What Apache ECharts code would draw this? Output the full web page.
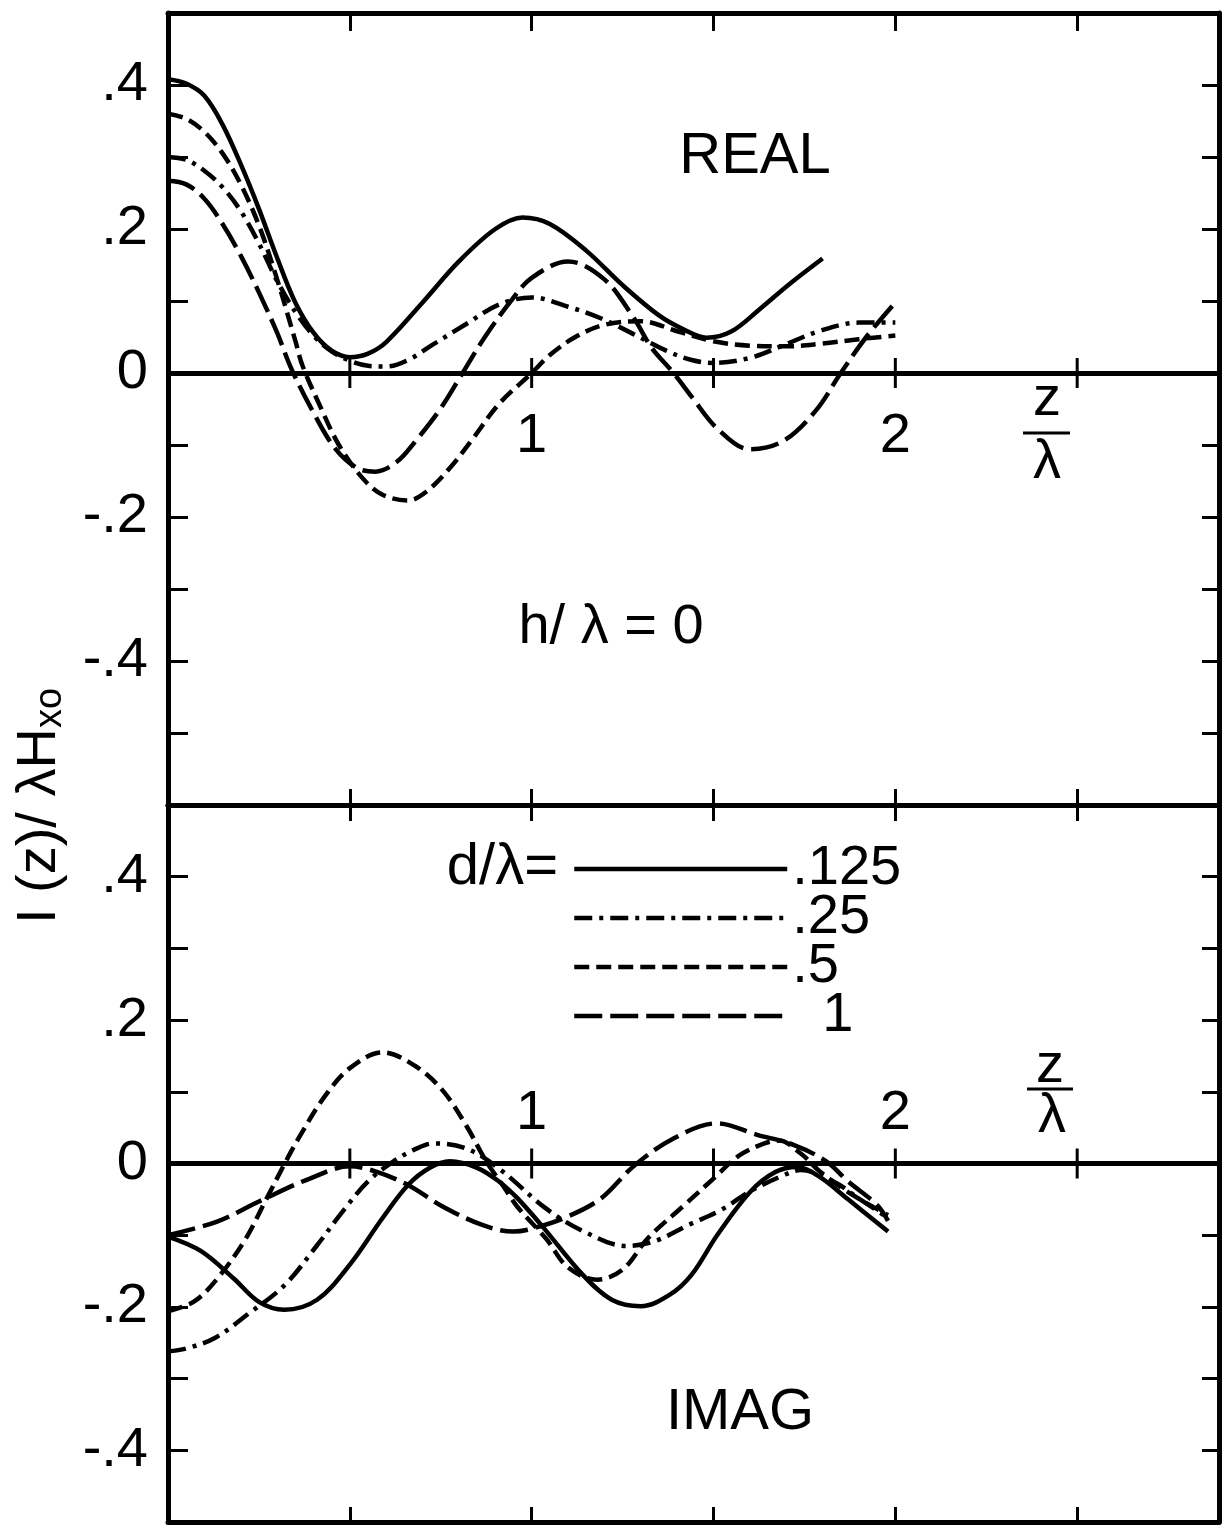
<!DOCTYPE html>
<html>
<head>
<meta charset="utf-8">
<script src="https://cdn.jsdelivr.net/npm/echarts@6/dist/echarts.min.js"></script>
<style>
html,body{margin:0;padding:0;background:#fff;}
#c{width:1222px;height:1530px;}
</style>
</head>
<body>
<div id="c"></div>
<script>
// ---------------- DATA ----------------
const seriesNames = ['.125', '.25', '.5', '1'];          // d/lambda
const yTickValues = [0.4, 0.2, 0, -0.2, -0.4];
const yTickLabels = ['.4', '.2', '0', '-.2', '-.4'];
const zeroTickValues = [0.5, 1, 1.5, 2, 2.5];
const xLabelValues = [1, 2];
const xLabelTexts = ['1', '2'];

// REAL part, h/lambda = 0
const realSolid = [[0,0.408],[0.05,0.402],[0.1,0.385],[0.15,0.345],[0.2,0.29],[0.25,0.228],[0.3,0.16],[0.35,0.098],[0.4,0.056],[0.45,0.031],[0.5,0.022],[0.55,0.027],[0.6,0.043],[0.7,0.098],[0.8,0.155],[0.9,0.2],[0.975,0.216],[1.05,0.207],[1.15,0.17],[1.25,0.122],[1.35,0.08],[1.42,0.06],[1.48,0.049],[1.55,0.058],[1.63,0.09],[1.71,0.124],[1.8,0.159]];
const realDashDot = [[0,0.3],[0.05,0.296],[0.1,0.281],[0.15,0.258],[0.2,0.225],[0.25,0.18],[0.3,0.128],[0.35,0.085],[0.4,0.052],[0.45,0.03],[0.5,0.017],[0.55,0.01],[0.6,0.009],[0.66,0.018],[0.73,0.04],[0.82,0.068],[0.91,0.095],[1.0,0.105],[1.1,0.092],[1.19,0.076],[1.28,0.054],[1.37,0.031],[1.44,0.018],[1.5,0.014],[1.6,0.021],[1.69,0.038],[1.79,0.058],[1.9,0.07],[2.0,0.07]];
const realShortDash = [[0,0.36],[0.05,0.353],[0.1,0.335],[0.15,0.305],[0.2,0.262],[0.25,0.205],[0.3,0.13],[0.35,0.045],[0.37,0.01],[0.42,-0.048],[0.47,-0.1],[0.535,-0.146],[0.59,-0.169],[0.66,-0.177],[0.71,-0.165],[0.775,-0.132],[0.84,-0.09],[0.91,-0.043],[1.0,0.0],[1.05,0.025],[1.12,0.05],[1.2,0.067],[1.3,0.072],[1.4,0.058],[1.5,0.044],[1.6,0.038],[1.7,0.037],[1.8,0.041],[1.9,0.047],[2.0,0.052]];
const realLongDash = [[0,0.267],[0.05,0.262],[0.1,0.242],[0.15,0.207],[0.2,0.163],[0.25,0.112],[0.3,0.056],[0.34,0.005],[0.4,-0.055],[0.46,-0.105],[0.52,-0.132],[0.57,-0.137],[0.63,-0.123],[0.68,-0.095],[0.75,-0.049],[0.81,0.0],[0.87,0.049],[0.94,0.098],[1.0,0.132],[1.1,0.155],[1.2,0.13],[1.28,0.077],[1.33,0.035],[1.39,0.0],[1.44,-0.033],[1.51,-0.077],[1.6,-0.106],[1.69,-0.095],[1.78,-0.053],[1.85,0.0],[1.92,0.05],[2.0,0.098]];

// IMAG part
const imagSolid = [[0,-0.102],[0.09,-0.122],[0.18,-0.16],[0.25,-0.193],[0.32,-0.204],[0.41,-0.19],[0.5,-0.141],[0.59,-0.076],[0.66,-0.03],[0.72,-0.006],[0.775,0.003],[0.85,-0.006],[0.91,-0.025],[0.96,-0.048],[1.03,-0.088],[1.14,-0.155],[1.22,-0.19],[1.3,-0.199],[1.38,-0.183],[1.44,-0.155],[1.51,-0.1],[1.6,-0.04],[1.67,-0.012],[1.73,-0.005],[1.79,-0.018],[1.87,-0.05],[1.98,-0.095]];
const imagDashDot = [[0,-0.262],[0.05,-0.258],[0.13,-0.243],[0.22,-0.21],[0.32,-0.17],[0.41,-0.114],[0.48,-0.067],[0.55,-0.025],[0.62,0.003],[0.68,0.02],[0.73,0.028],[0.82,0.021],[0.91,-0.007],[1.04,-0.063],[1.14,-0.094],[1.26,-0.115],[1.34,-0.108],[1.43,-0.086],[1.52,-0.065],[1.6,-0.039],[1.69,-0.017],[1.74,-0.009],[1.83,-0.025],[1.9,-0.049],[1.98,-0.076]];
const imagShortDash = [[0,-0.206],[0.07,-0.193],[0.13,-0.164],[0.21,-0.108],[0.27,-0.05],[0.32,-0.001],[0.36,0.036],[0.43,0.093],[0.5,0.133],[0.59,0.155],[0.68,0.136],[0.755,0.102],[0.82,0.053],[0.875,0.003],[0.92,-0.03],[0.96,-0.06],[1.04,-0.105],[1.1,-0.145],[1.18,-0.162],[1.25,-0.148],[1.32,-0.104],[1.42,-0.058],[1.5,-0.021],[1.57,0.011],[1.64,0.028],[1.68,0.032],[1.74,0.014],[1.79,-0.01],[1.87,-0.04],[1.98,-0.072]];
const imagLongDash = [[0,-0.1],[0.135,-0.081],[0.25,-0.053],[0.39,-0.021],[0.5,-0.004],[0.57,-0.011],[0.66,-0.03],[0.755,-0.06],[0.866,-0.086],[0.95,-0.095],[1.0,-0.091],[1.09,-0.076],[1.19,-0.049],[1.28,-0.004],[1.39,0.035],[1.51,0.056],[1.62,0.04],[1.72,0.026],[1.81,0.003],[1.87,-0.025],[1.95,-0.058],[1.98,-0.08]];

// ---------------- STYLE ----------------
const FONT = '"Liberation Sans", Arial, sans-serif';
const INK = '#000';
const X_MIN = 0, X_MAX = 2.89;
const LW = 4.5;
const dashStyles = ['solid', [18, 7, 4, 7], [15, 7], [28, 8]];

const chart = echarts.init(document.getElementById('c'), null, {renderer: 'canvas'});

function labelFor(v) {
  for (let i = 0; i < yTickValues.length; i++) {
    if (Math.abs(v - yTickValues[i]) < 1e-6) return yTickLabels[i];
  }
  return '';
}

function xAx(grid, pos, tickLen) {
  return {
    type: 'value', gridIndex: grid, position: pos, min: X_MIN, max: X_MAX, interval: 0.5,
    axisLine: {show: true, onZero: false, lineStyle: {color: INK, width: 5}},
    axisTick: {show: true, inside: true, length: tickLen, lineStyle: {color: INK, width: 3}},
    axisLabel: {show: false}, splitLine: {show: false}, minorTick: {show: false}
  };
}
function yAx(grid, pos, min, max, showLabels) {
  return {
    type: 'value', gridIndex: grid, position: pos, min: min, max: max, interval: 0.1,
    axisLine: {show: true, onZero: false, lineStyle: {color: INK, width: 5}},
    axisTick: {show: true, inside: true, length: pos === 'left' ? 20 : 17, lineStyle: {color: INK, width: 3}},
    axisLabel: {show: showLabels, margin: 20, formatter: labelFor, color: INK, fontSize: 56, fontFamily: FONT},
    splitLine: {show: false}
  };
}

function lineSeries(name, data, idx, style, withZero) {
  const s = {
    type: 'line', name: name, data: data, xAxisIndex: idx, yAxisIndex: idx,
    smooth: 0.35, symbol: 'none', showSymbol: false, animation: false, silent: true, z: 3,
    lineStyle: {color: INK, width: LW, type: style, cap: 'butt'},
    itemStyle: {color: INK}
  };
  if (withZero) {
    s.markLine = {
      silent: true, symbol: ['none', 'none'], label: {show: false}, animation: false,
      lineStyle: {color: INK, width: 5, type: 'solid'},
      emphasis: {disabled: true},
      data: [{yAxis: 0}]
    };
  }
  return s;
}

function zeroTicks(idx) {
  return {
    type: 'custom', xAxisIndex: idx, yAxisIndex: idx, silent: true, animation: false, z: 4, clip: false,
    data: zeroTickValues.map(v => [v, 0]),
    renderItem: function (params, api) {
      const p = api.coord([api.value(0), api.value(1)]);
      return {type: 'line', shape: {x1: p[0], y1: p[1] - 15, x2: p[0], y2: p[1] + 15},
              style: {stroke: INK, lineWidth: 3}};
    }
  };
}
function zeroLabels(idx, offset) {
  return {
    type: 'custom', xAxisIndex: idx, yAxisIndex: idx, silent: true, animation: false, z: 4, clip: false,
    data: xLabelValues.map(v => [v, 0]),
    renderItem: function (params, api) {
      const p = api.coord([api.value(0), api.value(1)]);
      return {type: 'text', x: p[0], y: p[1] + offset,
              style: {text: xLabelTexts[params.dataIndex], fill: INK, font: '56px ' + FONT,
                      align: 'center', verticalAlign: 'middle'}};
    }
  };
}

const realSets = [realSolid, realDashDot, realShortDash, realLongDash];
const imagSets = [imagSolid, imagDashDot, imagShortDash, imagLongDash];
const series = [];
realSets.forEach((d, i) => series.push(lineSeries(seriesNames[i], d, 0, dashStyles[i], i === 0)));
imagSets.forEach((d, i) => series.push(lineSeries(seriesNames[i], d, 1, dashStyles[i], i === 0)));
series.push(zeroTicks(0), zeroTicks(1), zeroLabels(0, 64), zeroLabels(1, -50));

function txt(x, y, text, size, align) {
  return {type: 'text', x: x, y: y, silent: true, z: 10,
          style: {text: text, fill: INK, font: size + 'px ' + FONT, align: align || 'center', verticalAlign: 'middle'}};
}
function bar(x1, x2, y) {
  return {type: 'line', silent: true, z: 10, shape: {x1: x1, y1: y, x2: x2, y2: y}, style: {stroke: INK, lineWidth: 3}};
}

const option = {
  backgroundColor: '#fff',
  animation: false,
  grid: [
    {left: 168, right: 3, top: 13, height: 792, outerBoundsMode: 'none', containLabel: false},
    {left: 168, right: 3, top: 805, height: 717, outerBoundsMode: 'none', containLabel: false}
  ],
  xAxis: [
    xAx(0, 'bottom', 16), xAx(1, 'bottom', 15), xAx(0, 'top', 18), xAx(1, 'top', 16)
  ],
  yAxis: [
    yAx(0, 'left', -0.6, 0.5, true), yAx(1, 'left', -0.5, 0.5, true),
    yAx(0, 'right', -0.6, 0.5, false), yAx(1, 'right', -0.5, 0.5, false)
  ],
  legend: {
    show: true, selectedMode: false, orient: 'vertical', left: 567, top: 836,
    itemWidth: 213, itemHeight: 14, itemGap: -7,
    itemStyle: {color: 'rgba(0,0,0,0)', borderWidth: 0, borderColor: 'rgba(0,0,0,0)'},
    lineStyle: {width: LW, color: INK},
    textStyle: {color: INK, fontSize: 56, fontFamily: FONT},
    data: seriesNames.map((n, i) => i === 3 ? {name: n, textStyle: {padding: [0, 0, 0, 30]}} : {name: n})
  },
  graphic: [
    txt(755, 157, 'REAL', 58),
    txt(611, 628, 'h/ λ = 0', 56),
    txt(740, 1413, 'IMAG', 58),
    txt(558, 868, 'd/λ=', 58, 'right'),
    txt(1047, 400, 'z', 56), bar(1023, 1070, 433), txt(1047, 463, 'λ', 56),
    txt(1050, 1067, 'z', 56), bar(1027, 1073, 1089), txt(1052, 1117, 'λ', 56),
    {
      type: 'text', x: 40, y: 806, rotation: Math.PI / 2, silent: true, z: 10,
      style: {
        text: '{m|I (z)/ λH}{s|xo}', align: 'center', verticalAlign: 'middle', fill: INK,
        rich: {
          m: {fontSize: 56, fontFamily: FONT, fill: INK, lineHeight: 60},
          s: {fontSize: 38, fontFamily: FONT, fill: INK, lineHeight: 60, verticalAlign: 'bottom'}
        }
      }
    }
  ],
  series: series
};
chart.setOption(option);
</script>
</body>
</html>
